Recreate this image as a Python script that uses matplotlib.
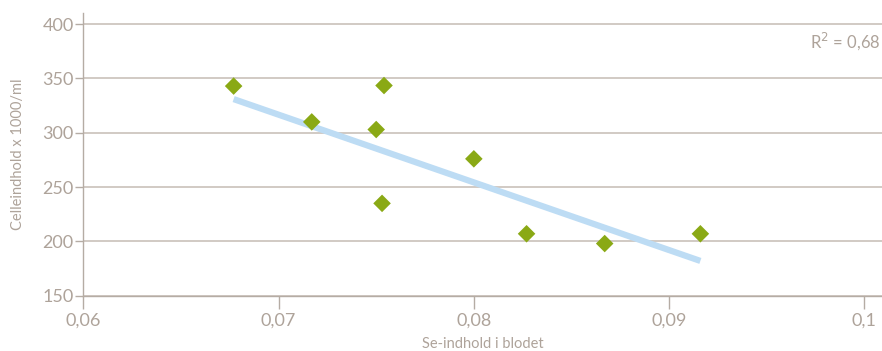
import numpy as np
import matplotlib
matplotlib.use("Agg")
import matplotlib.pyplot as plt
from matplotlib.ticker import FuncFormatter

# selenium in blood vs. somatic cell count
se_blod = [0.0677, 0.0717, 0.0750, 0.0754, 0.0753, 0.0800, 0.0827, 0.0867, 0.0916]
celletal = [343, 310, 303, 343.5, 235, 276, 207, 198, 207]
# linear trend evaluated at the smallest and largest Se value
trend_y = [331, 182]
x_ticks = [0.06, 0.07, 0.08, 0.09, 0.1]
y_ticks = [150, 200, 250, 300, 350, 400]

txt_col = "#aea39a"
grid_col = "#c9c1ba"
plt.rcParams['font.family'] = ['Lato', 'DejaVu Sans']

fig = plt.figure(figsize=(8.82, 3.51), dpi=100)
ax = fig.add_axes([0.0944, 0.1576, 0.9056, 0.8045])

ax.plot([min(se_blod), max(se_blod)], trend_y, color="#bddcf4", lw=4.5,
        solid_capstyle="butt", zorder=2)
ax.scatter(se_blod, celletal, marker="D", s=80, color="#8aa915", edgecolors="none", zorder=3)

ax.set_xlim(0.06, 0.1009)
ax.set_ylim(150, 410)
ax.set_xticks(x_ticks)
ax.set_yticks(y_ticks)
ax.xaxis.set_major_formatter(FuncFormatter(lambda v, p: ("%g" % round(v, 3)).replace(".", ",")))
ax.grid(axis="y", color=grid_col, lw=1.2)
ax.set_axisbelow(True)

for s in ["top", "right"]:
    ax.spines[s].set_visible(False)
for s in ["left", "bottom"]:
    ax.spines[s].set_color("#b5aca4")
    ax.spines[s].set_linewidth(1.0)
ax.tick_params(axis="x", length=9, width=1, color="#b5aca4", labelcolor=txt_col, labelsize=13, pad=3)
ax.tick_params(axis="y", length=6, width=1, color="#b5aca4", labelcolor=txt_col, labelsize=13, pad=1)

ax.set_xlabel("Se-indhold i blodet", color=txt_col, fontsize=10.5, labelpad=6)
ax.set_ylabel("Celleindhold x 1000/ml", color=txt_col, fontsize=10.5, labelpad=12)
ax.text(0.998, 0.9, "R$^2$ = 0,68", transform=ax.transAxes, ha="right", va="center",
        color=txt_col, fontsize=12)

fig.savefig("out.png", dpi=100)
